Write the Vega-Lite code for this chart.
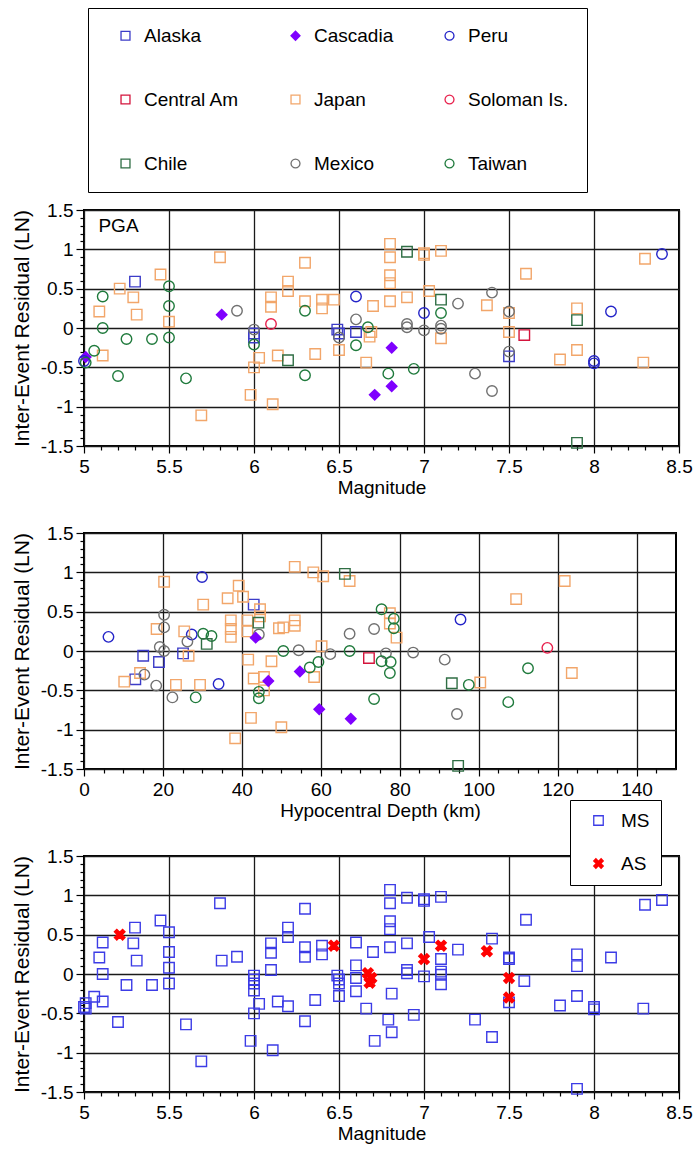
{
  "$schema": "https://vega.github.io/schema/vega-lite/v6.json",
  "padding": {"left": 10, "top": 6, "right": 5, "bottom": 5},
  "background": "white",
  "config": {
    "font": "Liberation Sans",
    "view": {"stroke": "#000", "strokeWidth": 2},
    "axis": {"labelFont": "Liberation Sans", "titleFont": "Liberation Sans", "labelColor": "#000", "titleColor": "#000", "tickColor": "#000", "gridColor": "#1a1a1a", "gridWidth": 1.3, "gridOpacity": 1, "domain": false, "labelFontSize": 19, "titleFontSize": 19, "titleFontWeight": "normal", "labelFlush": false, "labelOverlap": false, "tickSize": 7, "tickWidth": 1.2, "labelPadding": 4},
    "legend": {"labelFont": "Liberation Sans", "labelColor": "#000"}
  },
  "datasets": {
    "mag": [
      {"r":"Alaska","M":5.30,"res":0.59,"t":"MS"},{"r":"Alaska","M":6.00,"res":-0.07,"t":"MS"},{"r":"Alaska","M":6.00,"res":-0.12,"t":"MS"},{"r":"Alaska","M":6.49,"res":-0.02,"t":"MS"},{"r":"Alaska","M":6.50,"res":-0.07,"t":"MS"},{"r":"Alaska","M":6.60,"res":-0.05,"t":"MS"},{"r":"Alaska","M":7.50,"res":-0.36,"t":"MS"},
      {"r":"Cascadia","M":5.01,"res":-0.37,"t":"MS"},{"r":"Cascadia","M":5.81,"res":0.17,"t":"MS"},{"r":"Cascadia","M":6.71,"res":-0.85,"t":"MS"},{"r":"Cascadia","M":6.81,"res":-0.25,"t":"MS"},{"r":"Cascadia","M":6.81,"res":-0.74,"t":"MS"},
      {"r":"Peru","M":5.00,"res":-0.42,"t":"MS"},{"r":"Peru","M":6.60,"res":0.40,"t":"MS"},{"r":"Peru","M":7.00,"res":0.19,"t":"AS"},{"r":"Peru","M":8.00,"res":-0.42,"t":"MS"},{"r":"Peru","M":8.00,"res":-0.45,"t":"MS"},{"r":"Peru","M":8.10,"res":0.21,"t":"MS"},{"r":"Peru","M":8.40,"res":0.94,"t":"MS"},
      {"r":"Central Am","M":7.59,"res":-0.09,"t":"MS"},
      {"r":"Japan","M":5.21,"res":0.50,"t":"AS"},{"r":"Japan","M":5.29,"res":0.39,"t":"MS"},{"r":"Japan","M":5.09,"res":0.21,"t":"MS"},{"r":"Japan","M":5.31,"res":0.17,"t":"MS"},{"r":"Japan","M":5.11,"res":-0.35,"t":"MS"},{"r":"Japan","M":5.45,"res":0.68,"t":"MS"},{"r":"Japan","M":5.50,"res":0.08,"t":"MS"},{"r":"Japan","M":5.80,"res":0.90,"t":"MS"},{"r":"Japan","M":5.69,"res":-1.11,"t":"MS"},{"r":"Japan","M":6.10,"res":0.39,"t":"MS"},{"r":"Japan","M":6.10,"res":0.27,"t":"MS"},{"r":"Japan","M":6.20,"res":0.59,"t":"MS"},{"r":"Japan","M":6.20,"res":0.47,"t":"MS"},{"r":"Japan","M":6.30,"res":0.83,"t":"MS"},{"r":"Japan","M":6.30,"res":0.34,"t":"MS"},{"r":"Japan","M":6.40,"res":0.36,"t":"MS"},{"r":"Japan","M":6.40,"res":0.25,"t":"MS"},{"r":"Japan","M":6.47,"res":0.36,"t":"AS"},{"r":"Japan","M":6.70,"res":0.28,"t":"MS"},{"r":"Japan","M":6.80,"res":1.07,"t":"MS"},{"r":"Japan","M":6.80,"res":0.90,"t":"MS"},{"r":"Japan","M":6.80,"res":0.67,"t":"MS"},{"r":"Japan","M":6.80,"res":0.57,"t":"MS"},{"r":"Japan","M":6.80,"res":0.34,"t":"MS"},{"r":"Japan","M":6.03,"res":-0.38,"t":"MS"},{"r":"Japan","M":6.14,"res":-0.35,"t":"MS"},{"r":"Japan","M":6.00,"res":-0.50,"t":"MS"},{"r":"Japan","M":5.98,"res":-0.85,"t":"MS"},{"r":"Japan","M":6.11,"res":-0.97,"t":"MS"},{"r":"Japan","M":6.36,"res":-0.33,"t":"MS"},{"r":"Japan","M":6.50,"res":-0.28,"t":"MS"},{"r":"Japan","M":6.66,"res":-0.44,"t":"MS"},{"r":"Japan","M":6.68,"res":-0.11,"t":"AS"},{"r":"Japan","M":6.69,"res":-0.05,"t":"AS"},{"r":"Japan","M":6.90,"res":0.39,"t":"MS"},{"r":"Japan","M":7.00,"res":0.95,"t":"MS"},{"r":"Japan","M":7.00,"res":0.93,"t":"MS"},{"r":"Japan","M":7.10,"res":0.98,"t":"MS"},{"r":"Japan","M":7.03,"res":0.47,"t":"MS"},{"r":"Japan","M":7.10,"res":-0.13,"t":"MS"},{"r":"Japan","M":7.37,"res":0.29,"t":"AS"},{"r":"Japan","M":7.50,"res":0.19,"t":"MS"},{"r":"Japan","M":7.50,"res":-0.05,"t":"AS"},{"r":"Japan","M":7.60,"res":0.69,"t":"MS"},{"r":"Japan","M":7.80,"res":-0.40,"t":"MS"},{"r":"Japan","M":7.90,"res":0.25,"t":"MS"},{"r":"Japan","M":7.90,"res":-0.28,"t":"MS"},{"r":"Japan","M":8.30,"res":0.88,"t":"MS"},{"r":"Japan","M":8.29,"res":-0.44,"t":"MS"},
      {"r":"Soloman Is.","M":6.10,"res":0.05,"t":"MS"},
      {"r":"Chile","M":6.20,"res":-0.41,"t":"MS"},{"r":"Chile","M":6.90,"res":0.97,"t":"MS"},{"r":"Chile","M":7.10,"res":0.36,"t":"AS"},{"r":"Chile","M":7.90,"res":0.10,"t":"MS"},{"r":"Chile","M":7.90,"res":-1.46,"t":"MS"},
      {"r":"Mexico","M":5.90,"res":0.22,"t":"MS"},{"r":"Mexico","M":6.00,"res":-0.02,"t":"MS"},{"r":"Mexico","M":6.60,"res":0.11,"t":"MS"},{"r":"Mexico","M":6.50,"res":-0.12,"t":"MS"},{"r":"Mexico","M":6.90,"res":0.05,"t":"MS"},{"r":"Mexico","M":6.90,"res":0.01,"t":"MS"},{"r":"Mexico","M":7.00,"res":-0.03,"t":"MS"},{"r":"Mexico","M":7.10,"res":0.03,"t":"MS"},{"r":"Mexico","M":7.10,"res":-0.01,"t":"MS"},{"r":"Mexico","M":7.20,"res":0.31,"t":"MS"},{"r":"Mexico","M":7.40,"res":0.45,"t":"MS"},{"r":"Mexico","M":7.30,"res":-0.58,"t":"MS"},{"r":"Mexico","M":7.40,"res":-0.80,"t":"MS"},{"r":"Mexico","M":7.50,"res":0.21,"t":"MS"},{"r":"Mexico","M":7.50,"res":-0.30,"t":"AS"},
      {"r":"Taiwan","M":5.11,"res":0.40,"t":"MS"},{"r":"Taiwan","M":5.11,"res":0.00,"t":"MS"},{"r":"Taiwan","M":5.06,"res":-0.29,"t":"MS"},{"r":"Taiwan","M":5.01,"res":-0.44,"t":"MS"},{"r":"Taiwan","M":5.20,"res":-0.61,"t":"MS"},{"r":"Taiwan","M":5.25,"res":-0.14,"t":"MS"},{"r":"Taiwan","M":5.40,"res":-0.14,"t":"MS"},{"r":"Taiwan","M":5.50,"res":0.53,"t":"MS"},{"r":"Taiwan","M":5.50,"res":0.28,"t":"MS"},{"r":"Taiwan","M":5.50,"res":-0.12,"t":"MS"},{"r":"Taiwan","M":5.60,"res":-0.64,"t":"MS"},{"r":"Taiwan","M":6.00,"res":-0.21,"t":"MS"},{"r":"Taiwan","M":6.30,"res":0.22,"t":"MS"},{"r":"Taiwan","M":6.30,"res":-0.60,"t":"MS"},{"r":"Taiwan","M":6.60,"res":-0.22,"t":"MS"},{"r":"Taiwan","M":6.67,"res":0.01,"t":"AS"},{"r":"Taiwan","M":6.79,"res":-0.58,"t":"MS"},{"r":"Taiwan","M":6.94,"res":-0.52,"t":"MS"},{"r":"Taiwan","M":7.10,"res":0.19,"t":"MS"}
    ],
    "depth": [
      {"r":"Peru","D":6.2,"res":0.18},{"r":"Peru","D":29.9,"res":0.94},{"r":"Peru","D":27.3,"res":0.21},{"r":"Peru","D":34.1,"res":-0.42},{"r":"Peru","D":95.4,"res":0.40},
      {"r":"Alaska","D":15.0,"res":-0.06},{"r":"Alaska","D":19.0,"res":-0.14},{"r":"Alaska","D":13.0,"res":-0.36},{"r":"Alaska","D":25.1,"res":-0.03},{"r":"Alaska","D":43.0,"res":0.59},
      {"r":"Japan","D":20.3,"res":0.88},{"r":"Japan","D":30.2,"res":0.59},{"r":"Japan","D":36.4,"res":0.67},{"r":"Japan","D":39.2,"res":0.83},{"r":"Japan","D":40.3,"res":0.69},{"r":"Japan","D":18.4,"res":0.28},{"r":"Japan","D":25.4,"res":0.25},{"r":"Japan","D":37.2,"res":0.39},{"r":"Japan","D":37.2,"res":0.28},{"r":"Japan","D":37.2,"res":0.18},{"r":"Japan","D":41.4,"res":0.39},{"r":"Japan","D":41.4,"res":0.25},{"r":"Japan","D":44.6,"res":0.53},{"r":"Japan","D":44.6,"res":0.44},{"r":"Japan","D":49.4,"res":0.29},{"r":"Japan","D":26.5,"res":-0.06},{"r":"Japan","D":41.6,"res":-0.11},{"r":"Japan","D":47.5,"res":-0.13},{"r":"Japan","D":10.2,"res":-0.39},{"r":"Japan","D":14.2,"res":-0.28},{"r":"Japan","D":23.3,"res":-0.43},{"r":"Japan","D":29.4,"res":-0.43},{"r":"Japan","D":43.0,"res":-0.35},{"r":"Japan","D":45.6,"res":-0.33},{"r":"Japan","D":45.6,"res":-0.50},{"r":"Japan","D":42.3,"res":-0.85},{"r":"Japan","D":38.3,"res":-1.11},{"r":"Japan","D":50.0,"res":-0.97},{"r":"Japan","D":53.4,"res":1.07},{"r":"Japan","D":58.1,"res":1.00},{"r":"Japan","D":60.6,"res":0.95},{"r":"Japan","D":67.3,"res":0.89},{"r":"Japan","D":50.5,"res":0.30},{"r":"Japan","D":53.4,"res":0.39},{"r":"Japan","D":53.4,"res":0.32},{"r":"Japan","D":60.2,"res":0.06},{"r":"Japan","D":58.3,"res":-0.33},{"r":"Japan","D":77.5,"res":0.48},{"r":"Japan","D":77.5,"res":0.35},{"r":"Japan","D":79.2,"res":0.17},{"r":"Japan","D":121.8,"res":0.89},{"r":"Japan","D":109.5,"res":0.66},{"r":"Japan","D":100.4,"res":-0.40},{"r":"Japan","D":123.6,"res":-0.28},
      {"r":"Mexico","D":20.3,"res":0.46},{"r":"Mexico","D":20.3,"res":0.30},{"r":"Mexico","D":19.2,"res":0.05},{"r":"Mexico","D":20.3,"res":0.0},{"r":"Mexico","D":26.2,"res":0.12},{"r":"Mexico","D":15.3,"res":-0.30},{"r":"Mexico","D":18.3,"res":-0.44},{"r":"Mexico","D":22.4,"res":-0.59},{"r":"Mexico","D":44.3,"res":0.21},{"r":"Mexico","D":54.4,"res":0.01},{"r":"Mexico","D":62.4,"res":-0.04},{"r":"Mexico","D":67.3,"res":0.22},{"r":"Mexico","D":73.5,"res":0.28},{"r":"Mexico","D":76.5,"res":-0.03},{"r":"Mexico","D":83.4,"res":-0.02},{"r":"Mexico","D":91.4,"res":-0.11},{"r":"Mexico","D":94.5,"res":-0.80},
      {"r":"Taiwan","D":30.2,"res":0.22},{"r":"Taiwan","D":32.3,"res":0.19},{"r":"Taiwan","D":28.3,"res":-0.59},{"r":"Taiwan","D":44.3,"res":-0.52},{"r":"Taiwan","D":44.3,"res":-0.60},{"r":"Taiwan","D":50.5,"res":0.0},{"r":"Taiwan","D":57.2,"res":-0.21},{"r":"Taiwan","D":59.4,"res":-0.14},{"r":"Taiwan","D":67.3,"res":0.0},{"r":"Taiwan","D":75.4,"res":0.53},{"r":"Taiwan","D":78.5,"res":0.41},{"r":"Taiwan","D":78.5,"res":0.29},{"r":"Taiwan","D":75.4,"res":-0.13},{"r":"Taiwan","D":77.7,"res":-0.14},{"r":"Taiwan","D":77.5,"res":-0.28},{"r":"Taiwan","D":73.5,"res":-0.61},{"r":"Taiwan","D":97.5,"res":-0.43},{"r":"Taiwan","D":112.5,"res":-0.22},{"r":"Taiwan","D":107.5,"res":-0.65},
      {"r":"Chile","D":31.1,"res":0.09},{"r":"Chile","D":44.2,"res":0.36},{"r":"Chile","D":66.1,"res":0.98},{"r":"Chile","D":93.2,"res":-0.41},{"r":"Chile","D":94.8,"res":-1.46},
      {"r":"Cascadia","D":43.5,"res":0.17},{"r":"Cascadia","D":46.7,"res":-0.38},{"r":"Cascadia","D":54.7,"res":-0.26},{"r":"Cascadia","D":59.6,"res":-0.74},{"r":"Cascadia","D":67.6,"res":-0.86},
      {"r":"Central Am","D":72.2,"res":-0.09},
      {"r":"Soloman Is.","D":117.4,"res":0.04}
    ],
    "pga": [{"label": "PGA"}]
  },
  "bounds": "flush",
  "spacing": 87,
  "resolve": {
    "scale": {"x": "independent", "y": "independent", "shape": "independent", "stroke": "independent", "fill": "independent"},
    "axis": {"x": "independent", "y": "independent"},
    "legend": {"shape": "independent", "stroke": "independent", "fill": "independent"}
  },
  "vconcat": [
    {
      "width": 595, "height": 236,
      "resolve": {"axis": {"x": "independent", "y": "independent"}},
      "layer": [
        {
          "data": {"name": "mag"},
          "mark": {"type": "point", "size": 110, "strokeWidth": 1.4, "opacity": 1, "filled": false},
          "encoding": {
            "x": {"field": "M", "type": "quantitative", "scale": {"domain": [5, 8.5], "nice": false, "zero": false},
                  "axis": {"orient": "bottom", "title": "Magnitude", "values": [5,5.5,6,6.5,7,7.5,8,8.5], "labelExpr": "replace(format(datum.value,'~g'),'−','-')", "grid": true, "titlePadding": 2}},
            "y": {"field": "res", "type": "quantitative", "scale": {"domain": [-1.5, 1.5], "nice": false, "zero": false},
                  "axis": {"orient": "left", "title": "Inter-Event Residual (LN)", "titleFontSize": 21, "titlePadding": 8, "values": [-1.5,-1,-0.5,0,0.5,1,1.5], "labelExpr": "replace(format(datum.value,'~g'),'−','-')", "grid": true, "labelPadding": 3, "tickSize": 8}},
            "shape": {"field": "r", "type": "nominal",
              "scale": {"domain": ["Alaska","Central Am","Chile","Cascadia","Japan","Mexico","Peru","Soloman Is.","Taiwan"], "range": ["square","square","square","diamond","square","circle","circle","circle","circle"]},
              "legend": {"orient": "none", "legendX": 4, "legendY": -202, "columns": 3, "title": null, "padding": 18, "strokeColor": "#000", "fillColor": "white", "labelFontSize": 19, "labelOffset": 9, "symbolOffset": 10, "symbolSize": 80, "symbolStrokeWidth": 1.3, "rowPadding": 44, "columnPadding": 36, "labelLimit": 300}},
            "stroke": {"field": "r", "type": "nominal",
              "scale": {"domain": ["Alaska","Central Am","Chile","Cascadia","Japan","Mexico","Peru","Soloman Is.","Taiwan"], "range": ["#3c3cc8","#d4143c","#2f6e44","#7f00ff","#f2a66a","#707070","#2424c8","#e8204c","#1f7a3c"]},
              "legend": {"orient": "none", "legendX": 4, "legendY": -202, "columns": 3, "title": null, "padding": 18, "strokeColor": "#000", "fillColor": "white", "labelFontSize": 19, "labelOffset": 9, "symbolOffset": 10, "symbolSize": 80, "symbolStrokeWidth": 1.3, "rowPadding": 44, "columnPadding": 36, "labelLimit": 300}},
            "fill": {"field": "r", "type": "nominal",
              "scale": {"domain": ["Alaska","Central Am","Chile","Cascadia","Japan","Mexico","Peru","Soloman Is.","Taiwan"], "range": ["transparent","transparent","transparent","#7f00ff","transparent","transparent","transparent","transparent","transparent"]},
              "legend": {"orient": "none", "legendX": 4, "legendY": -202, "columns": 3, "title": null, "padding": 18, "strokeColor": "#000", "fillColor": "white", "labelFontSize": 19, "labelOffset": 9, "symbolOffset": 10, "symbolSize": 80, "symbolStrokeWidth": 1.3, "rowPadding": 44, "columnPadding": 36, "labelLimit": 300}}
          }
        },
        {
          "data": {"name": "mag"},
          "mark": {"type": "point", "opacity": 0},
          "encoding": {
            "x": {"field": "M", "type": "quantitative", "axis": {"orient": "bottom", "values": [5.1,5.2,5.3,5.4,5.6,5.7,5.8,5.9,6.1,6.2,6.3,6.4,6.6,6.7,6.8,6.9,7.1,7.2,7.3,7.4,7.6,7.7,7.8,7.9,8.1,8.2,8.3,8.4], "labels": false, "grid": false, "tickSize": 4, "title": null}},
            "y": {"field": "res", "type": "quantitative", "axis": {"orient": "left", "values": [-1.4,-1.3,-1.2,-1.1,-0.9,-0.8,-0.7,-0.6,-0.4,-0.3,-0.2,-0.1,0.1,0.2,0.3,0.4,0.6,0.7,0.8,0.9,1.1,1.2,1.3,1.4], "labels": false, "grid": false, "tickSize": 4, "title": null}}
          }
        },
        {
          "data": {"name": "pga"},
          "mark": {"type": "text", "align": "left", "baseline": "alphabetic", "fontSize": 19, "font": "Liberation Sans", "color": "#000"},
          "encoding": {
            "x": {"datum": 5.085, "type": "quantitative", "axis": null},
            "y": {"datum": 1.22, "type": "quantitative", "axis": null},
            "text": {"field": "label"}
          }
        }
      ]
    },
    {
      "width": 592, "height": 236,
      "resolve": {"axis": {"x": "independent", "y": "independent"}},
      "layer": [
        {
          "data": {"name": "depth"},
          "mark": {"type": "point", "size": 110, "strokeWidth": 1.4, "opacity": 1, "filled": false},
          "encoding": {
            "x": {"field": "D", "type": "quantitative", "scale": {"domain": [0, 150], "nice": false, "zero": false},
                  "axis": {"orient": "bottom", "title": "Hypocentral Depth (km)", "values": [0,20,40,60,80,100,120,140], "grid": true, "titlePadding": 2}},
            "y": {"field": "res", "type": "quantitative", "scale": {"domain": [-1.5, 1.5], "nice": false, "zero": false},
                  "axis": {"orient": "left", "title": "Inter-Event Residual (LN)", "titleFontSize": 21, "titlePadding": 8, "values": [-1.5,-1,-0.5,0,0.5,1,1.5], "labelExpr": "replace(format(datum.value,'~g'),'−','-')", "grid": true, "labelPadding": 3, "tickSize": 8}},
            "shape": {"field": "r", "type": "nominal", "legend": null,
              "scale": {"domain": ["Alaska","Central Am","Chile","Cascadia","Japan","Mexico","Peru","Soloman Is.","Taiwan"], "range": ["square","square","square","diamond","square","circle","circle","circle","circle"]}},
            "stroke": {"field": "r", "type": "nominal", "legend": null,
              "scale": {"domain": ["Alaska","Central Am","Chile","Cascadia","Japan","Mexico","Peru","Soloman Is.","Taiwan"], "range": ["#3c3cc8","#d4143c","#2f6e44","#7f00ff","#f2a66a","#707070","#2424c8","#e8204c","#1f7a3c"]}},
            "fill": {"field": "r", "type": "nominal", "legend": null,
              "scale": {"domain": ["Alaska","Central Am","Chile","Cascadia","Japan","Mexico","Peru","Soloman Is.","Taiwan"], "range": ["transparent","transparent","transparent","#7f00ff","transparent","transparent","transparent","transparent","transparent"]}}
          }
        },
        {
          "data": {"name": "depth"},
          "mark": {"type": "point", "opacity": 0},
          "encoding": {
            "x": {"field": "D", "type": "quantitative", "axis": {"orient": "bottom", "values": [5,10,15,25,30,35,45,50,55,65,70,75,85,90,95,105,110,115,125,130,135,145], "labels": false, "grid": false, "tickSize": 4, "title": null}},
            "y": {"field": "res", "type": "quantitative", "axis": {"orient": "left", "values": [-1.4,-1.3,-1.2,-1.1,-0.9,-0.8,-0.7,-0.6,-0.4,-0.3,-0.2,-0.1,0.1,0.2,0.3,0.4,0.6,0.7,0.8,0.9,1.1,1.2,1.3,1.4], "labels": false, "grid": false, "tickSize": 4, "title": null}}
          }
        }
      ]
    },
    {
      "width": 595, "height": 236,
      "resolve": {"axis": {"x": "independent", "y": "independent"}},
      "layer": [
        {
          "data": {"name": "mag"},
          "mark": {"type": "point", "size": 110, "strokeWidth": 1.4, "opacity": 1, "filled": false},
          "encoding": {
            "x": {"field": "M", "type": "quantitative", "scale": {"domain": [5, 8.5], "nice": false, "zero": false},
                  "axis": {"orient": "bottom", "title": "Magnitude", "values": [5,5.5,6,6.5,7,7.5,8,8.5], "labelExpr": "replace(format(datum.value,'~g'),'−','-')", "grid": true, "titlePadding": 2}},
            "y": {"field": "res", "type": "quantitative", "scale": {"domain": [-1.5, 1.5], "nice": false, "zero": false},
                  "axis": {"orient": "left", "title": "Inter-Event Residual (LN)", "titleFontSize": 21, "titlePadding": 8, "values": [-1.5,-1,-0.5,0,0.5,1,1.5], "labelExpr": "replace(format(datum.value,'~g'),'−','-')", "grid": true, "labelPadding": 3, "tickSize": 8}},
            "order": {"field": "t", "sort": "descending"},
            "shape": {"field": "t", "type": "nominal",
              "scale": {"domain": ["MS","AS"], "range": ["square","M-1,-0.55L-0.55,-1L0,-0.45L0.55,-1L1,-0.55L0.45,0L1,0.55L0.55,1L0,0.45L-0.55,1L-1,0.55L-0.45,0Z"]},
              "legend": {"orient": "none", "legendX": 486, "legendY": -56, "title": null, "padding": 11, "strokeColor": "#000", "fillColor": "white", "labelFontSize": 19, "labelOffset": 13, "symbolOffset": 8, "symbolSize": 90, "symbolStrokeWidth": 1.3, "rowPadding": 23}},
            "stroke": {"field": "t", "type": "nominal",
              "scale": {"domain": ["MS","AS"], "range": ["#3c3ce6","#ff0000"]},
              "legend": {"orient": "none", "legendX": 486, "legendY": -56, "title": null, "padding": 11, "strokeColor": "#000", "fillColor": "white", "labelFontSize": 19, "labelOffset": 13, "symbolOffset": 8, "symbolSize": 90, "symbolStrokeWidth": 1.3, "rowPadding": 23}},
            "fill": {"field": "t", "type": "nominal",
              "scale": {"domain": ["MS","AS"], "range": ["transparent","#ff0000"]},
              "legend": {"orient": "none", "legendX": 486, "legendY": -56, "title": null, "padding": 11, "strokeColor": "#000", "fillColor": "white", "labelFontSize": 19, "labelOffset": 13, "symbolOffset": 8, "symbolSize": 90, "symbolStrokeWidth": 1.3, "rowPadding": 23}}
          }
        },
        {
          "data": {"name": "mag"},
          "mark": {"type": "point", "opacity": 0},
          "encoding": {
            "x": {"field": "M", "type": "quantitative", "axis": {"orient": "bottom", "values": [5.1,5.2,5.3,5.4,5.6,5.7,5.8,5.9,6.1,6.2,6.3,6.4,6.6,6.7,6.8,6.9,7.1,7.2,7.3,7.4,7.6,7.7,7.8,7.9,8.1,8.2,8.3,8.4], "labels": false, "grid": false, "tickSize": 4, "title": null}},
            "y": {"field": "res", "type": "quantitative", "axis": {"orient": "left", "values": [-1.4,-1.3,-1.2,-1.1,-0.9,-0.8,-0.7,-0.6,-0.4,-0.3,-0.2,-0.1,0.1,0.2,0.3,0.4,0.6,0.7,0.8,0.9,1.1,1.2,1.3,1.4], "labels": false, "grid": false, "tickSize": 4, "title": null}}
          }
        }
      ]
    }
  ]
}
